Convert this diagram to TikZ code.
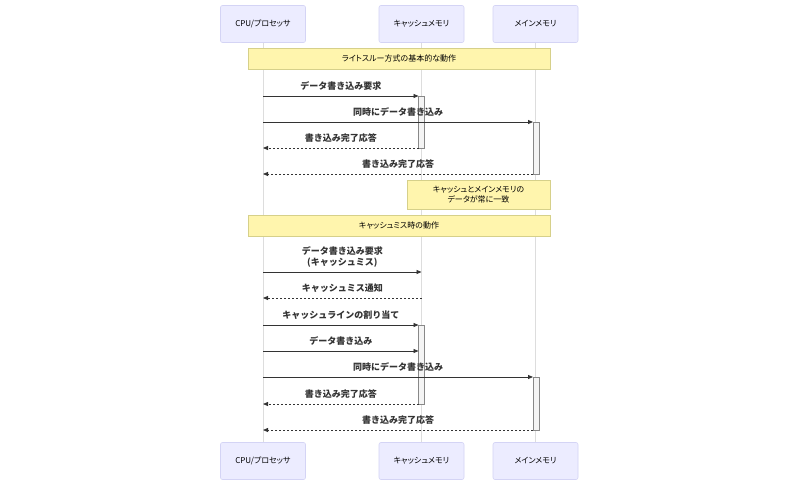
\documentclass[tikz,border=0pt]{standalone}
\usepackage{fontspec}
\setmainfont{Noto Sans CJK JP}
\newfontfamily\jpp{Noto Sans CJK JP}[RawFeature=+palt]
\usetikzlibrary{arrows.meta}
\definecolor{actorfill}{HTML}{ECECFF}
\definecolor{actorborder}{HTML}{D4D4F5}
\definecolor{notefill}{HTML}{FFF5AD}
\definecolor{noteborder}{HTML}{D6D08A}
\definecolor{lifeline}{HTML}{DDDDDD}
\definecolor{actfill}{HTML}{F4F4F4}
\definecolor{actborder}{HTML}{888888}
\definecolor{msgcol}{HTML}{333333}
\begin{document}
\begin{tikzpicture}[x=1pt,y=-1pt,
 actor/.style={draw=actorborder, fill=actorfill, rounded corners=2pt, minimum width=85pt, minimum height=37pt, font=\jpp\fontsize{8}{10}\selectfont, inner sep=0pt, line width=0.6pt},
 notebox/.style={draw=noteborder, fill=notefill, font=\jpp\fontsize{8}{10}\selectfont, inner sep=0pt, align=center, line width=0.6pt},
 life/.style={draw=lifeline, line width=0.7pt},
 act/.style={draw=actborder, fill=actfill, line width=0.5pt},
 msg/.style={draw=msgcol, line width=0.8pt, -{Triangle[length=5pt,width=4pt]}},
 reply/.style={msg, dash pattern=on 2pt off 2pt},
 lbl/.style={font=\fontsize{9}{11}\selectfont\bfseries, text=msgcol, align=center, inner sep=0pt}
]
\fill[white] (0,0) rectangle (800,480);
\useasboundingbox (0,0) rectangle (800,480);
% actors
\node[actor] (cpuT) at (263,24) {CPU/プロセッサ};
\node[actor] (cacheT) at (421.5,24) {キャッシュメモリ};
\node[actor] (mainT) at (535.5,24) {メインメモリ};
\node[actor] (cpuB) at (263,461) {CPU/プロセッサ};
\node[actor] (cacheB) at (421.5,461) {キャッシュメモリ};
\node[actor] (mainB) at (535.5,461) {メインメモリ};
% lifelines
\draw[life] (cpuT.south) -- (cpuB.north);
\draw[life] (cacheT.south) -- (cacheB.north);
\draw[life] (mainT.south) -- (mainB.north);
% notes
\node[notebox, minimum width=302pt, minimum height=21pt] (n1) at (399,58.5) {ライトスルー方式の基本的な動作};
\node[notebox, minimum width=143pt, minimum height=29pt] (n2) at (478.5,194.5) {キャッシュとメインメモリの\\データが常に一致};
\node[notebox, minimum width=302pt, minimum height=21pt] (n3) at (399,225.5) {キャッシュミス時の動作};
% activations
\draw[act] (418.5,96) rectangle (424.5,148);
\draw[act] (533,122) rectangle (539,174);
\draw[act] (418.5,325) rectangle (424.5,404);
\draw[act] (533,377) rectangle (539,430);
% coordinates on lifelines
\coordinate (p1) at (263,96);  \coordinate (q1) at (418.5,96);
\coordinate (p2) at (263,122); \coordinate (q2) at (533,122);
\coordinate (p3) at (263,148); \coordinate (q3) at (418.5,148);
\coordinate (p4) at (263,174); \coordinate (q4) at (533,174);
\coordinate (p5) at (263,272); \coordinate (q5) at (421.5,272);
\coordinate (p6) at (263,298); \coordinate (q6) at (421.5,298);
\coordinate (p7) at (263,325); \coordinate (q7) at (418.5,325);
\coordinate (p8) at (263,351); \coordinate (q8) at (418.5,351);
\coordinate (p9) at (263,377); \coordinate (q9) at (533,377);
\coordinate (p10) at (263,404); \coordinate (q10) at (418.5,404);
\coordinate (p11) at (263,430); \coordinate (q11) at (533,430);
% messages
\draw[msg] (p1) -- node[lbl, above=5pt] {データ書き込み要求} (q1);
\draw[msg] (p2) -- node[lbl, above=5pt] {同時にデータ書き込み} (q2);
\draw[reply] (q3) -- node[lbl, above=5pt] {書き込み完了応答} (p3);
\draw[reply] (q4) -- node[lbl, above=5pt] {書き込み完了応答} (p4);
\draw[msg] (p5) -- node[lbl, above=4pt] {データ書き込み要求\\(キャッシュミス)} (q5);
\draw[reply] (q6) -- node[lbl, above=5pt] {キャッシュミス通知} (p6);
\draw[msg] (p7) -- node[lbl, above=5pt] {キャッシュラインの割り当て} (q7);
\draw[msg] (p8) -- node[lbl, above=5pt] {データ書き込み} (q8);
\draw[msg] (p9) -- node[lbl, above=5pt] {同時にデータ書き込み} (q9);
\draw[reply] (q10) -- node[lbl, above=5pt] {書き込み完了応答} (p10);
\draw[reply] (q11) -- node[lbl, above=5pt] {書き込み完了応答} (p11);
\end{tikzpicture}
\end{document}
